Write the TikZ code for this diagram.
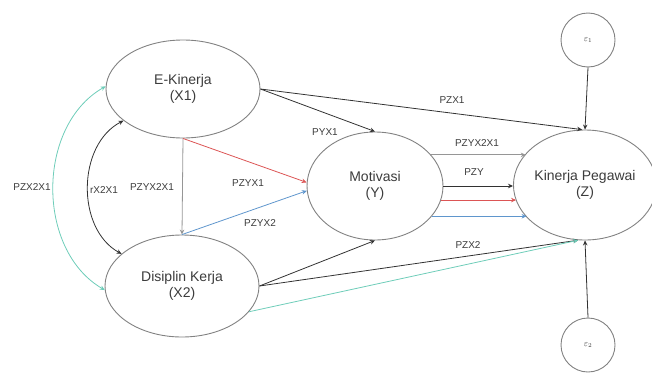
\documentclass[tikz,border=0pt]{standalone}
\usepackage{fontspec}
\setmainfont{Liberation Sans}
\usepackage{tikz}
\usetikzlibrary{shapes.geometric, arrows.meta, calc}
\definecolor{linegray}{RGB}{150,150,150}
\definecolor{lineblack}{RGB}{50,50,50}
\definecolor{linered}{RGB}{220,85,85}
\definecolor{lineblue}{RGB}{95,150,205}
\definecolor{lineteal}{RGB}{110,205,185}
\definecolor{border}{RGB}{130,130,130}
\definecolor{textgray}{RGB}{60,60,60}

\begin{document}
\begin{tikzpicture}[x=1pt, y=-1pt]

% TikZ styles
\tikzset{
  var/.style={ellipse, draw=border, line width=0.9pt, fill=white, inner sep=0pt, align=center, text=textgray, font=\fontsize{14}{16}\selectfont},
  err/.style={circle, draw=border, line width=0.9pt, fill=white, inner sep=0pt, minimum size=54pt, text=textgray, font=\fontsize{9}{10}\selectfont},
  lbl/.style={text=textgray, font=\fontsize{10}{12}\selectfont, inner sep=1pt},
  arrow/.style={-{Stealth[length=5pt, width=4.5pt]}, line width=0.8pt, draw=lineblack},
  arrowboth/.style={{Stealth[length=5pt, width=4.5pt]}-{Stealth[length=5pt, width=4.5pt]}, line width=0.8pt, draw=lineblack}
}

\useasboundingbox (0,0) rectangle (652,372);

%==========================
% Variablen
%==========================
\node[var, minimum width=154pt, minimum height=98pt]  (x1) at (183,89)  {E-Kinerja\\(X1)};
\node[var, minimum width=154pt, minimum height=102pt] (x2) at (182,286) {Disiplin Kerja\\(X2)};
\node[var, minimum width=136pt, minimum height=108pt] (y)  at (375,186) {Motivasi\\(Y)};
\node[var, minimum width=136pt, minimum height=110pt] (z)  at (585,185) {Kinerja Pegawai\\(Z)};
\node[err] (e1) at (588,40)  {$\varepsilon_1$};
\node[err] (e2) at (588,345) {$\varepsilon_2$};

%==========================
% Pfeile
%==========================
\draw[arrowboth, draw=lineteal, lineteal] (x1.178) to[bend right=60] (x2.183);
\draw[arrowboth] (x1.208) to[bend right=62] (x2.152);
\draw[arrow, draw=linegray] (x1.south) -- (x2.north);
\draw[arrow, draw=linered, linered] (x1.south) -- (y.177);
\draw[arrow, draw=lineblue, lineblue] (x2.north) -- (y.184);

\draw[arrow] (x1.east) -- (y.north);
\draw[arrow] (x1.east) -- (z.93);
\draw[arrow] (x2.east) -- (y.south);
\draw[arrow] (x2.east) -- (z.-97);
\draw[arrow, draw=lineteal, lineteal] (x2.-21) -- (z.-97);

%Pfeile Y nach Z
\draw[arrow, draw=linegray] (y.29) -- (y.29 -| z.152);
\draw[arrow] (y.east) -- (y.east -| z.west);
\draw[arrow, draw=linered, linered] (y.-12) -- (y.-12 -| z.193);
\draw[arrow, draw=lineblue, lineblue] (y.-28) -- (y.-28 -| z.209);

\draw[arrow] (e1.south) -- (z.north);
\draw[arrow] (e2.north) -- (z.south);

%==========================
% Beschriftungen
%==========================
\node[lbl] (pzx2x1)  at (32,187)  {PZX2X1};
\node[lbl] (rx2x1)   at (104,190) {rX2X1};
\node[lbl] (pzyx2x1) at (152,187) {PZYX2X1};
\node[lbl] (pzyx1)   at (248,183) {PZYX1};
\node[lbl] (pzyx2)   at (260,223) {PZYX2};
\node[lbl] (pyx1)    at (325,132) {PYX1};
\node[lbl] (pzx1)    at (452,100) {PZX1};
\node[lbl] (pzyx2x1z) at (477,143) {PZYX2X1};
\node[lbl] (pzy)     at (474,172) {PZY};
\node[lbl] (pzx2)    at (468,245) {PZX2};

\end{tikzpicture}
\end{document}
